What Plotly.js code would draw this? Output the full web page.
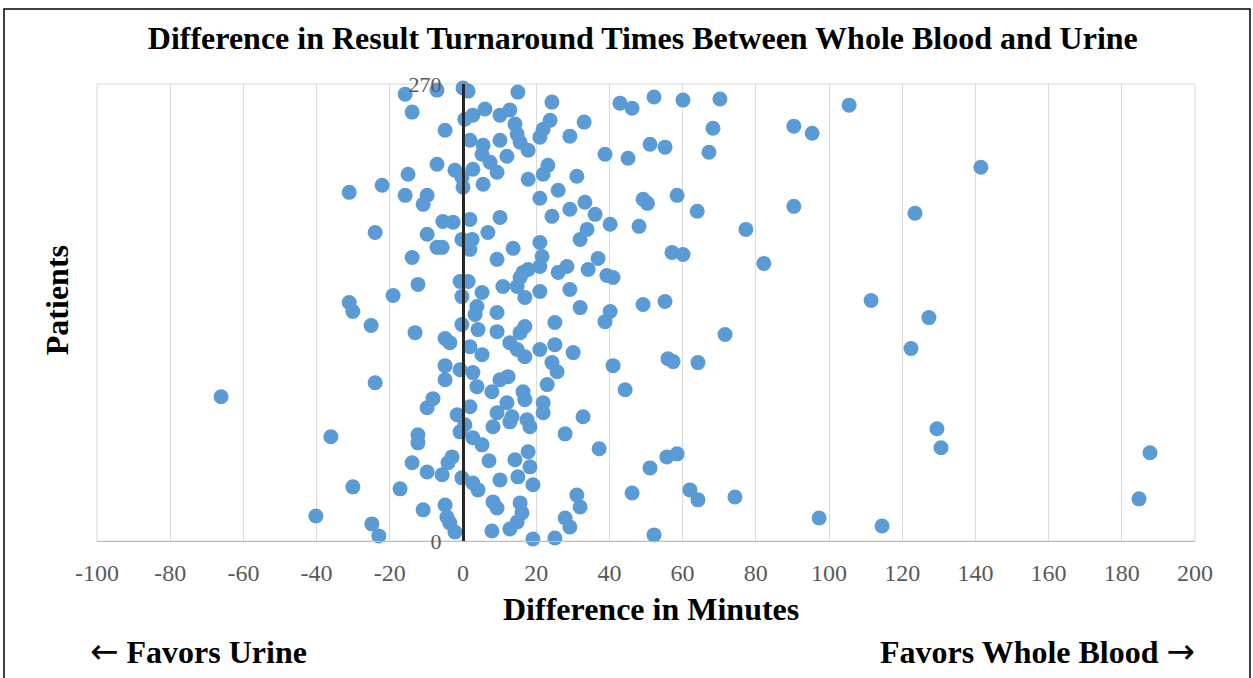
<!DOCTYPE html>
<html>
<head>
<meta charset="utf-8">
<script src="https://cdn.plot.ly/plotly-3.0.1.min.js"></script>
<style>html,body{margin:0;padding:0;background:#fff;}#chart{width:1253px;height:678px;}</style>
</head>
<body>
<div id="chart"></div>
<script>
// Difference in minutes (whole blood vs urine) for each patient
const diffMinutes = [
  -15.8,-7.1,0,1.4,-13.9,15.0,24.3,42.9,46.2,52.2,60.1,70.2,105.5,
  -4.9,0.5,2.7,6.0,10.1,12.8,14.2,23.8,21.9,21.0,29.2,33.1,68.3,90.4,95.4,67.2,
  1.9,5.5,5.2,10.1,12.0,7.4,14.8,15.6,17.8,38.8,45.1,51.1,55.2,
  -7.1,-2.2,-0.3,0,2.7,9.3,5.5,17.8,21.9,23.2,31.1,26.0,141.5,
  -15.0,-22.1,-31.1,-15.8,-9.8,-10.9,21.0,49.2,58.5,33.3,
  29.2,36.1,24.3,40.2,50.4,48.1,64.0,
  -5.5,-2.7,1.9,10.1,-0.3,2.5,1.9,6.8,-5.7,13.7,21.0,21.6,9.3,
  33.9,32.0,36.9,34.2,26.0,28.4,39.3,41.0,21.0,16.4,15.6,17.8,14.8,
  -0.8,1.4,-0.3,5.2,10.9,21.0,29.2,16.9,3.8,9.3,32.0,40.2,49.2,55.2,
  57.1,60.1,90.4,123.5,77.3,82.2,
  -24.0,-9.8,-7.1,-13.9,-12.3,-19.1,-31.1,-30.1,-25.1,-13.1,-4.9,-3.6,-0.3,-4.9,-4.9,-0.8,-24.0,-66.1,-8.2,-9.8,-1.6,
  3.3,4.1,9.3,16.9,15.6,25.1,38.8,71.6,
  1.9,5.2,12.8,14.8,16.9,21.0,25.1,30.1,24.3,25.7,41.0,56.0,57.4,64.2,
  2.7,10.1,12.3,3.8,7.9,16.4,23.0,44.3,
  1.9,12.0,16.9,21.9,9.3,13.4,21.9,32.8,
  111.5,127.3,122.4,129.5,130.6,187.7,74.3,184.7,97.3,114.5,
  -0.8,-36.1,-12.3,-12.3,-13.9,-9.8,-5.7,-4.1,-3.0,-0.3,-30.1,-17.2,-10.9,-4.9,-4.4,-3.6,-2.2,-40.2,-24.9,-23.0,
  0.5,2.7,5.2,8.2,12.8,17.5,18.3,27.9,37.2,17.8,14.2,7.1,2.7,4.1,10.1,15.0,18.3,19.1,
  51.1,55.7,58.5,46.2,62.0,64.2,31.1,32.0,27.9,29.2,
  8.2,9.3,15.6,16.1,14.8,12.8,7.9,19.1,25.1,52.2
];

// Patient position on the vertical axis
const patientPos = [
  264,266.4,267.6,265.8,253.4,265.2,259.3,258.7,255.7,262.3,260.5,261.1,257.5,
  242.7,249.2,251.6,255.2,251.6,254.6,246.3,248.6,243.3,238.6,239.2,247.5,243.9,245.1,240.9,229.7,
  236.8,233.8,228.5,236.8,227.3,223.8,240.4,235.6,230.9,228.5,226.1,234.4,232.7,
  222.6,219.0,214.9,209.0,219.6,217.9,210.8,213.7,216.7,222.0,215.5,207.2,220.8,
  216.7,210.2,206.0,204.2,204.2,198.9,202.5,201.9,204.2,200.1,
  196.0,193.0,191.8,187.1,199.5,185.9,194.8,
  188.8,188.3,190.0,191.2,178.2,178.2,172.3,182.3,173.5,172.9,176.4,168.1,166.4,
  184.1,178.2,166.9,160.4,158.7,162.2,156.9,155.7,162.2,158.7,155.7,160.4,150.4,
  153.3,153.3,144.4,146.8,150.4,147.4,148.6,143.9,138.5,135.0,137.9,135.6,139.7,141.5,
  170.5,169.3,197.7,193.6,184.1,164.0,
  182.3,181.2,173.5,167.5,151.6,145.0,140.9,135.6,127.3,123.1,119.6,117.2,127.9,103.6,95.3,101.2,93.5,85.2,84.1,78.7,74.6,
  133.8,124.9,123.7,126.7,123.1,129.1,129.6,122.0,
  114.8,110.1,117.2,113.1,108.9,113.1,116.0,111.3,105.4,100.0,103.6,107.7,106.0,105.4,
  99.5,95.3,97.1,91.2,88.2,88.2,92.4,89.4,
  79.3,81.7,83.5,81.7,75.8,73.4,75.8,73.4,
  142.1,132.0,113.7,66.3,55.1,52.1,26.0,24.9,13.6,8.9,
  64.5,61.6,62.8,58.0,46.2,40.8,39.1,46.2,49.7,37.3,32.0,30.8,18.4,21.3,14.2,10.7,5.3,14.8,10.1,3.0,
  68.7,61.0,56.8,67.5,70.4,71.6,67.5,63.3,54.5,52.7,48.0,47.4,34.3,30.2,36.1,37.9,43.8,33.2,
  43.2,49.7,51.5,28.4,30.2,24.3,27.2,20.1,13.6,8.3,
  23.1,19.5,22.5,16.6,11.2,7.1,5.9,1.2,1.8,3.6
];

const xTickVals = [-100,-80,-60,-40,-20,0,20,40,60,80,100,120,140,160,180,200];
const xTickText = ['-100','-80','-60','-40','-20','0','20','40','60','80','100','120','140','160','180','200'];
const yTickVals = [0, 270];
const yTickText = ['0', '270'];

const serif = 'Liberation Serif, Times New Roman, serif';
const arrowSpan = (ch) => '<span style="font-family:DejaVu Sans;font-size:34px;font-weight:normal">' + ch + '</span>';

const trace = {
  type: 'scatter',
  mode: 'markers',
  x: diffMinutes,
  y: patientPos,
  marker: {size: 15, color: '#5B9BD5', line: {width: 0}},
  cliponaxis: false,
  hoverinfo: 'x+y'
};

const layout = {
  width: 1253,
  height: 678,
  margin: {l: 97, r: 58, t: 84, b: 137, pad: 0},
  paper_bgcolor: '#ffffff',
  plot_bgcolor: '#ffffff',
  showlegend: false,
  title: {
    text: '<b>Difference in Result Turnaround Times Between Whole Blood and Urine</b>',
    font: {family: serif, size: 32, color: '#000000'},
    x: 0.513, xanchor: 'center', xref: 'container',
    y: 0.944, yanchor: 'middle', yref: 'container'
  },
  xaxis: {
    range: [-100, 200],
    tickvals: xTickVals,
    ticktext: xTickText,
    showgrid: true,
    gridcolor: '#D9D9D9',
    gridwidth: 1,
    zeroline: false,
    showline: true,
    linecolor: '#BFBFBF',
    linewidth: 1,
    ticks: '',
    ticklabelstandoff: 10,
    tickfont: {family: serif, size: 24, color: '#595959'},
    fixedrange: true
  },
  yaxis: {
    range: [0, 270],
    anchor: 'free',
    position: 1/3,
    side: 'left',
    showgrid: false,
    zeroline: false,
    showline: true,
    linecolor: '#262626',
    linewidth: 3,
    tickvals: yTickVals,
    ticktext: yTickText,
    ticks: '',
    ticklabelstandoff: 16,
    tickfont: {family: serif, size: 22, color: '#595959'},
    fixedrange: true
  },
  shapes: [
    {type: 'rect', xref: 'paper', yref: 'paper', x0: 0, x1: 1, y0: 0, y1: 1,
     line: {color: '#D9D9D9', width: 1}, layer: 'below'},
    {type: 'rect', xref: 'paper', yref: 'paper', x0: -0.0847, x1: 1.0501, y0: -0.33, y1: 1.164,
     line: {color: '#000000', width: 1.5}, layer: 'above'}
  ],
  annotations: [
    {text: '<b>Difference in Minutes</b>', xref: 'paper', yref: 'paper', x: 0.505, y: -0.149,
     xanchor: 'center', yanchor: 'middle', showarrow: false,
     font: {family: serif, size: 32, color: '#000000'}},
    {text: '<b>Patients</b>', xref: 'paper', yref: 'paper', x: -0.0364, y: 0.527,
     xanchor: 'center', yanchor: 'middle', textangle: -90, showarrow: false,
     font: {family: serif, size: 32, color: '#000000'}},
    {text: arrowSpan('\u2190') + ' <b>Favors Urine</b>', xref: 'paper', yref: 'paper', x: -0.0082, y: -0.2407,
     xanchor: 'left', yanchor: 'middle', showarrow: false,
     font: {family: serif, size: 32, color: '#000000'}},
    {text: '<b>Favors Whole Blood</b> ' + arrowSpan('\u2192'), xref: 'paper', yref: 'paper', x: 1.0018, y: -0.2407,
     xanchor: 'right', yanchor: 'middle', showarrow: false,
     font: {family: serif, size: 32, color: '#000000'}}
  ]
};

Plotly.newPlot('chart', [trace], layout, {displayModeBar: false, staticPlot: true});
</script>
</body>
</html>
